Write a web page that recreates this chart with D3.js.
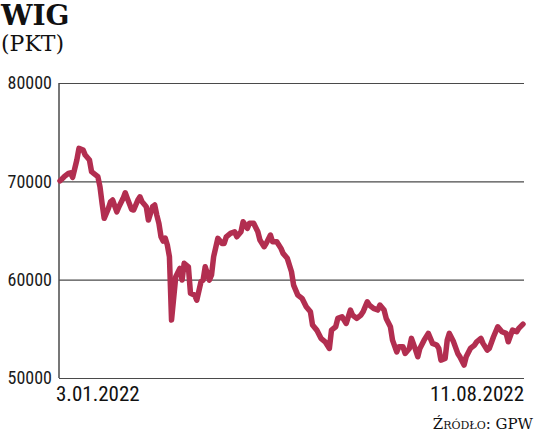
<!DOCTYPE html>
<html>
<head>
<meta charset="utf-8">
<script src="https://cdn.jsdelivr.net/npm/d3@7"></script>
<style>
  body { margin: 0; background: #fff; }
  svg { display: block; }
</style>
</head>
<body>
<script>
// WIG index, 3.01.2022 - 11.08.2022
var startDate = new Date(2022, 0, 3);
var endDate = new Date(2022, 7, 11);
var dayOffsets = [0,2,4,5,6,8,9,11,12,14,15,16,18,19,20,21,23,24,25,27,28,30,31,32,34,35,37,38,39,41,42,44,45,46,47,48,49,50,51,52,53,55,57,58,59,61,62,64,65,67,68,69,71,72,73,75,77,78,79,81,83,84,86,87,89,90,92,94,95,97,98,100,101,103,105,106,108,110,111,113,115,117,119,120,122,124,126,128,129,131,132,134,136,138,139,141,143,144,146,147,149,151,152,154,155,157,158,160,161,163,164,166,167,169,170,171,173,175,177,179,180,181,183,184,185,187,189,190,192,193,195,197,198,200,201,203,204,206,208,210,212,213,215,217,218,220];
var wigValues = [70050,70470,70810,70870,70400,72170,73350,73180,72670,72170,70980,70810,70470,69450,67760,66240,67250,67920,68100,66900,67420,68270,68840,68270,67150,67080,68100,68430,67920,67420,66060,67420,67590,66570,65730,64360,63930,64230,63520,62330,55890,60300,61150,59960,61660,61310,58610,58430,57920,59790,59960,61310,59960,60470,62330,64200,63690,63690,64360,64710,64870,64360,64870,65890,65220,65730,65730,64870,64030,63350,63690,64540,63860,63860,63180,62670,62170,60800,59450,58430,58100,57240,56730,55380,54870,54030,53680,53010,54870,55210,56060,56230,55550,56910,56400,56060,56400,56730,57750,57420,57080,56910,57420,56910,56060,55210,53850,52660,53170,53170,52500,53010,54030,52840,52160,53010,53850,54540,53520,53350,53010,51820,51990,53850,54540,53680,52500,52160,51310,52160,53010,53350,53680,54030,53520,52840,53010,54190,55210,54700,54540,53680,54870,54700,55050,55480];
var yTicks = [50000, 60000, 70000, 80000];
var title = "WIG";
var unit = "(PKT)";
var source = "Źródło: GPW";

var width = 536, height = 439;
var margin = {top: 83, right: 12, bottom: 61, left: 59};

var data = dayOffsets.map(function (d, i) {
  return {date: d3.timeDay.offset(startDate, d), value: wigValues[i]};
});

var svg = d3.select("body").append("svg")
  .attr("width", width)
  .attr("height", height);

var x = d3.scaleTime()
  .domain([startDate, endDate])
  .range([margin.left + 1, width - margin.right - 1]);

var y = d3.scaleLinear()
  .domain([50000, 80000])
  .range([height - margin.bottom, margin.top]);

// grid lines + left axis
var yAxis = d3.axisLeft(y)
  .tickValues(yTicks)
  .tickSize(-(width - margin.right - margin.left))
  .tickPadding(7)
  .tickFormat(d3.format("d"));

var gy = svg.append("g")
  .attr("transform", "translate(" + margin.left + ",0)")
  .call(yAxis);
gy.select(".domain").remove();
gy.selectAll(".tick line")
  .attr("stroke", "#4a4a4a")
  .attr("stroke-width", 1.2);
gy.selectAll(".tick text")
  .attr("fill", "#1a1a1a")
  .style("font-family", "'Liberation Sans Narrow', 'Roboto Condensed', Roboto, sans-serif")
  .style("font-size", "18px");

// vertical axis line
svg.append("line")
  .attr("x1", margin.left).attr("x2", margin.left)
  .attr("y1", y(80000)).attr("y2", y(50000))
  .attr("stroke", "#4a4a4a")
  .attr("stroke-width", 1.5);

// line
var line = d3.line()
  .x(function (d) { return x(d.date); })
  .y(function (d) { return y(d.value); })
  .curve(d3.curveLinear);

svg.append("path")
  .datum(data)
  .attr("fill", "none")
  .attr("stroke", "#b22e50")
  .attr("stroke-width", 5.5)
  .attr("stroke-linejoin", "round")
  .attr("stroke-linecap", "round")
  .attr("d", line);

// date labels
var fmt = function (dt) { return d3.timeFormat("%-d.%m.%Y")(dt); };
svg.append("text")
  .attr("x", x(startDate) - 4)
  .attr("y", 401)
  .attr("text-anchor", "start")
  .style("font-family", "'Liberation Sans Narrow', 'Roboto Condensed', Roboto, sans-serif")
  .style("font-size", "21px")
  .attr("fill", "#111")
  .text(fmt(startDate));

svg.append("text")
  .attr("x", x(endDate) + 1)
  .attr("y", 401)
  .attr("text-anchor", "end")
  .style("font-family", "'Liberation Sans Narrow', 'Roboto Condensed', Roboto, sans-serif")
  .style("font-size", "21px")
  .attr("fill", "#111")
  .text(fmt(endDate));

// title
svg.append("text")
  .attr("x", 1)
  .attr("y", 25)
  .style("font-family", "'DejaVu Serif', 'Liberation Serif', serif")
  .style("font-weight", "bold")
  .style("font-size", "28px")
  .attr("fill", "#111")
  .text(title);

svg.append("text")
  .attr("x", 1)
  .attr("y", 51)
  .style("font-family", "'DejaVu Serif', 'Liberation Serif', serif")
  .style("font-size", "22px")
  .attr("fill", "#111")
  .text(unit);

// source
svg.append("text")
  .attr("x", width - 3)
  .attr("y", 429)
  .attr("text-anchor", "end")
  .style("font-family", "'DejaVu Serif', 'Liberation Serif', serif")
  .style("font-size", "15px")
  .style("font-variant", "small-caps")
  .attr("fill", "#111")
  .text(source);
</script>
</body>
</html>
